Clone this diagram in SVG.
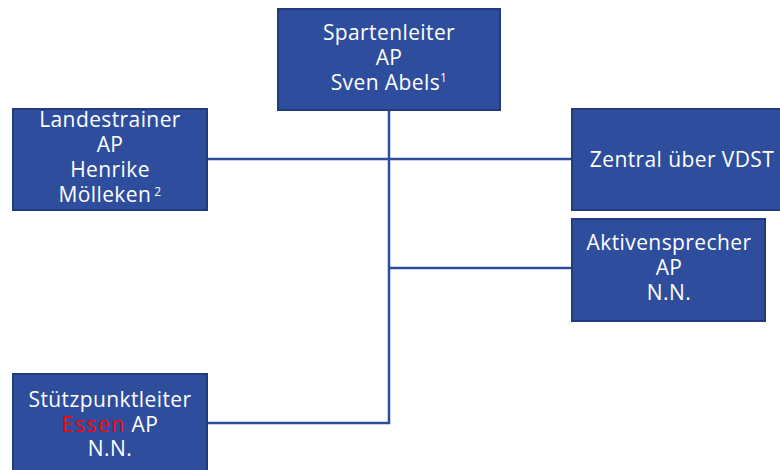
<svg xmlns="http://www.w3.org/2000/svg" width="780" height="470" viewBox="0 0 780 470">
<style>
.box{fill:#2E4D9D;stroke:#213B7E;stroke-width:2}
.t{font-family:"Open Sans","DejaVu Sans",sans-serif;font-size:21px;letter-spacing:0.4px;fill:#ffffff;text-anchor:middle}
.sup{font-size:12px}
.red{fill:#FF0000;letter-spacing:1.5px}
.con{fill:none;stroke:#2E4D9D;stroke-width:2.5}
</style>
<rect width="780" height="470" fill="#ffffff"/>
<g id="connectors">
<path class="con" d="M389 110 V423 H208"/>
<path class="con" d="M208 159 H571"/>
<path class="con" d="M389 268 H571"/>
</g>
<g id="spartenleiter">
<rect class="box" x="278" y="9" width="222" height="101"/>
<text class="t" x="389" y="40">Spartenleiter</text>
<text class="t" x="389" y="65">AP</text>
<text class="t" x="389" y="90">Sven Abels<tspan class="sup" dy="-8">1</tspan></text>
</g>
<g id="landestrainer">
<rect class="box" x="13" y="109" width="194" height="101"/>
<text class="t" x="110" y="127">Landestrainer</text>
<text class="t" x="110" y="152">AP</text>
<text class="t" x="110" y="177">Henrike</text>
<text class="t" x="110" y="202">Mölleken<tspan class="sup" dx="3" dy="-6">2</tspan></text>
</g>
<g id="zentral">
<rect class="box" x="572" y="109" width="212" height="101"/>
<text class="t" x="682" y="167">Zentral über VDST</text>
</g>
<g id="aktivensprecher">
<rect class="box" x="572" y="219" width="193" height="102"/>
<text class="t" x="669" y="250">Aktivensprecher</text>
<text class="t" x="669" y="275">AP</text>
<text class="t" x="669" y="300">N.N.</text>
</g>
<g id="stuetzpunktleiter">
<rect class="box" x="13" y="374" width="194" height="102"/>
<text class="t" x="110" y="407">Stützpunktleiter</text>
<text class="t" x="110" y="432"><tspan class="red">Essen</tspan> AP</text>
<text class="t" x="110" y="456">N.N.</text>
</g>
</svg>
